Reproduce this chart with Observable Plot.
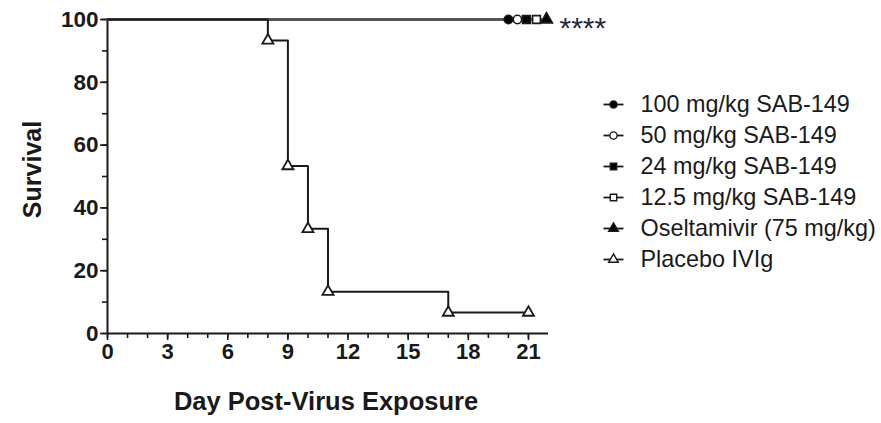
<!DOCTYPE html>
<html>
<head>
<meta charset="utf-8">
<script src="https://cdn.jsdelivr.net/npm/d3@7"></script>
<script src="https://cdn.jsdelivr.net/npm/@observablehq/plot@0.6"></script>
<style>
  html, body { margin: 0; padding: 0; background: #fff; }
  #wrap { position: relative; width: 881px; height: 423px; overflow: hidden; background: #fff; }
  #legend { position: absolute; left: 590px; top: 84px; }
</style>
</head>
<body>
<div id="wrap"><div id="main"></div><div id="legend"></div></div>
<script>
// ---- data ----
const groups = ["100 mg/kg SAB-149", "50 mg/kg SAB-149", "24 mg/kg SAB-149", "12.5 mg/kg SAB-149", "Oseltamivir (75 mg/kg)", "Placebo IVIg"];
const groupSymbols = ["circle", "circle", "square", "square", "triangle", "triangle"];
const groupFills = ["black", "white", "black", "white", "black", "white"];
// treated groups: 100% survival; end-of-study marker positions (as drawn, slightly offset)
const treatedGroups = groups.slice(0, 5);
const treatedStart = [0, 0, 0, 0, 0];
const treatedEnd = [20.0, 20.45, 20.9, 21.4, 21.9];
const treatedSurvival = [100, 100, 100, 100, 100];
// placebo Kaplan-Meier curve
const placeboDays = [0, 8, 9, 10, 11, 17, 21];
const placeboSurvival = [100, 93.33, 53.33, 33.33, 13.33, 6.67, 6.67];
const placeboMarked = [false, true, true, true, true, true, true];
// axes
const xTickLabels = [0, 3, 6, 9, 12, 15, 18, 21];
const xMinorTicks = [0,1,2,3,4,5,6,7,8,9,10,11,12,13,14,15,16,17,18,19,20,21];
const yTickLabels = [0, 20, 40, 60, 80, 100];
const yMinorTicks = [0, 10, 20, 30, 40, 50, 60, 70, 80, 90, 100];
const significance = "****";
const xLabel = "Day Post-Virus Exposure";
const yLabel = "Survival";

// ---- build tables ----
const treatedLines = [];
treatedGroups.forEach((g, i) => {
  treatedLines.push({group: g, day: treatedStart[i], s: treatedSurvival[i]});
  treatedLines.push({group: g, day: treatedEnd[i], s: treatedSurvival[i]});
});
const treatedMarks = treatedGroups.map((g, i) => ({group: g, day: treatedEnd[i], s: treatedSurvival[i], symbol: groupSymbols[i], fill: groupFills[i]}));
const placebo = placeboDays.map((d, i) => ({day: d, s: placeboSurvival[i], marked: placeboMarked[i]}));

const font = "'Liberation Sans', Arial, Helvetica, sans-serif";
const ink = "#1a1a1a";

const marks = [
  // axis lines
  Plot.ruleY([0], {stroke: ink, strokeWidth: 2}),
  Plot.ruleX([0], {stroke: ink, strokeWidth: 2}),
  Plot.axisX(xMinorTicks, {tickSize: 5, tickFormat: () => "", stroke: ink, strokeWidth: 1.6, label: null}),
  Plot.axisX(xTickLabels, {tickSize: 7, tickPadding: 3, fontSize: 22, fontWeight: "bold", fill: ink, stroke: ink, strokeWidth: 1.6, label: null}),
  Plot.axisY(yMinorTicks, {tickSize: 5, tickFormat: () => "", stroke: ink, strokeWidth: 1.6, label: null}),
  Plot.axisY(yTickLabels, {tickSize: 7, tickPadding: 2, fontSize: 22.5, fontWeight: "bold", fill: ink, stroke: ink, strokeWidth: 1.6, label: null}),
  Plot.text([xLabel], {frameAnchor: "bottom", dy: 76, dx: -2, fontSize: 25.5, fontWeight: "bold", fill: ink}),
  Plot.text([yLabel], {frameAnchor: "left", textAnchor: "middle", dx: -75, dy: -7, rotate: -90, fontSize: 25, fontWeight: "bold", fill: ink}),
  // treated lines
  Plot.line(treatedLines, {x: "day", y: "s", z: "group", stroke: "#555", strokeWidth: 2.5}),
  // placebo step curve
  Plot.line(placebo, {x: "day", y: "s", curve: "step-after", stroke: ink, strokeWidth: 2}),
  Plot.dot(placebo.filter(d => d.marked), {x: "day", y: "s", symbol: "triangle", r: 4.1, fill: "white", stroke: ink, strokeWidth: 1.8}),
];
treatedMarks.forEach(m => {
  marks.push(Plot.dot([m], {x: "day", y: "s", symbol: m.symbol, r: m.symbol === "circle" ? 4.2 : 4.4, fill: m.fill, stroke: ink, strokeWidth: 1.6}));
});
marks.push(Plot.text([significance], {x: treatedEnd[4], y: 100, dx: 13, dy: 9, textAnchor: "start", fontSize: 30, fill: "#2a2a3a", letterSpacing: 2.5}));

const chart = Plot.plot({
  width: 881,
  height: 423,
  marginLeft: 107,
  marginRight: 333,
  marginTop: 19,
  marginBottom: 90,
  x: {domain: [0, 22]},
  y: {domain: [0, 100]},
  style: {fontFamily: font, background: "white", overflow: "visible"},
  marks
});
document.getElementById("main").appendChild(chart);

// ---- legend (drawn with Plot) ----
const legendRows = groups.map((g, i) => ({group: g, symbol: groupSymbols[i], fill: groupFills[i]}));
const legendMarks = [
  Plot.link(legendRows, {x1: () => 13, x2: () => 33, y1: "group", y2: "group", stroke: ink, strokeWidth: 1.8})
];
legendRows.forEach(r => {
  legendMarks.push(Plot.dot([r], {x: () => 23, y: "group", symbol: r.symbol, r: 3.6, fill: r.fill, stroke: ink, strokeWidth: 1.4}));
});
legendMarks.push(Plot.text(legendRows, {x: () => 50, y: "group", text: "group", textAnchor: "start", fontSize: 23.4, fill: ink}));
const legend = Plot.plot({
  width: 291,
  height: 195,
  margin: 0,
  x: {domain: [0, 291], range: [0, 291], axis: null},
  y: {type: "point", domain: groups, range: [18, 176], padding: 0, axis: null},
  style: {fontFamily: font, background: "transparent", overflow: "visible"},
  marks: legendMarks
});
document.getElementById("legend").appendChild(legend);
</script>
</body>
</html>
